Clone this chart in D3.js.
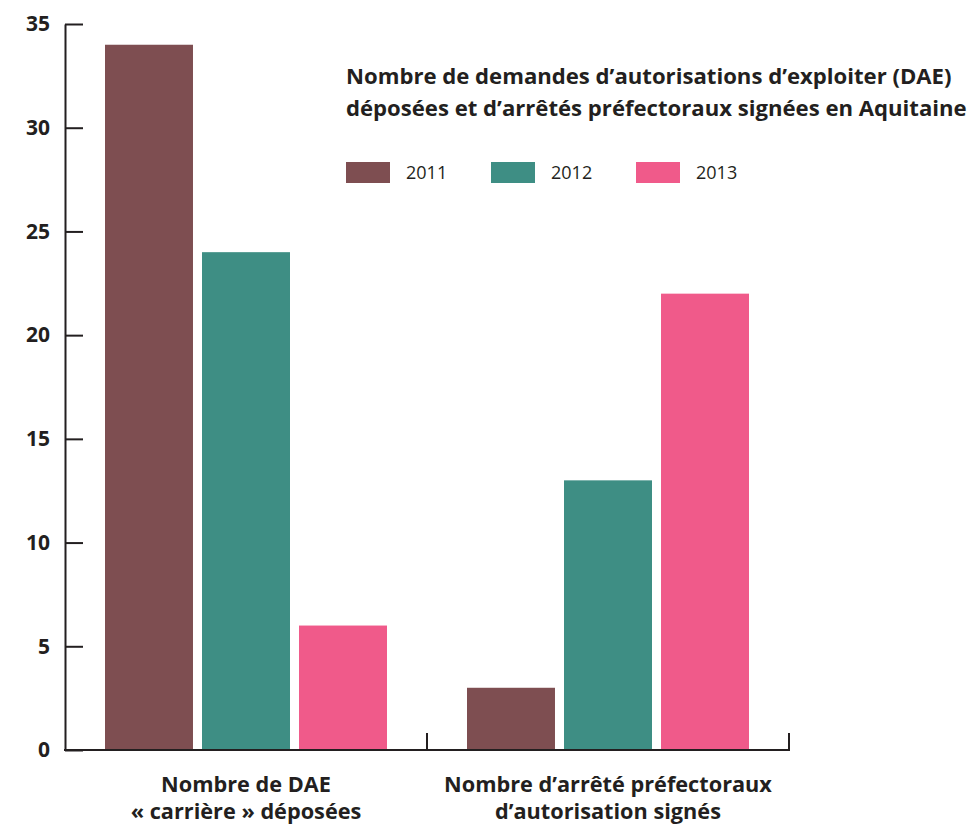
<!DOCTYPE html>
<html><head><meta charset="utf-8">
<script src="https://cdn.jsdelivr.net/npm/d3@7"></script>
<style>body{margin:0;background:#fff;} svg{display:block;}</style>
</head><body>
<svg id="chart" width="970" height="830"></svg>
<script>
const categories = [["Nombre de DAE", "« carrière » déposées"], ["Nombre d’arrêté préfectoraux", "d’autorisation signés"]];
const years = ["2011", "2012", "2013"];
const values2011 = [34, 3];
const values2012 = [24, 13];
const values2013 = [6, 22];
const yTicks = [0, 5, 10, 15, 20, 25, 30, 35];
const titleLines = ["Nombre de demandes d’autorisations d’exploiter (DAE)", "déposées et d’arrêtés préfectoraux signées en Aquitaine"];
const colors = ["#7E4E51", "#3E8E84", "#F05A8A"];

const series = [values2011, values2012, values2013];
const catKeys = categories.map((c, i) => "c" + i);
const svg = d3.select("#chart");
const font = "'Open Sans', Lato, sans-serif";
const ink = "#231F20";

// fit font size so a reference string reaches a target width
function fitSize(text, target, weight) {
  const t = svg.append("text").style("font-family", font).style("font-weight", weight)
    .style("font-size", "20px").text(text);
  const w = t.node().getComputedTextLength();
  t.remove();
  return 20 * target / w;
}

const y = d3.scaleLinear().domain([0, 35]).range([750, 24]);
const x0 = d3.scaleBand().domain(catKeys).range([65, 789]).padding(0);
const x1 = d3.scaleBand().domain(years).range([40, x0.bandwidth() - 40]).paddingInner(0.093).paddingOuter(0);
const color = d3.scaleOrdinal().domain(years).range(colors);

// bars
const groups = svg.append("g").selectAll("g").data(catKeys).join("g")
  .attr("transform", d => `translate(${x0(d)},0)`);
groups.selectAll("rect")
  .data((d, i) => years.map((yr, j) => ({ yr, v: series[j][i] })))
  .join("rect")
  .attr("x", d => x1(d.yr))
  .attr("width", x1.bandwidth())
  .attr("y", d => y(d.v))
  .attr("height", d => y(0) - y(d.v))
  .attr("fill", d => color(d.yr));

// y axis
const yAxis = svg.append("g").attr("transform", "translate(65,0)")
  .call(d3.axisLeft(y).tickValues(yTicks).tickSizeInner(-18).tickSizeOuter(0).tickPadding(15));
yAxis.select(".domain").attr("stroke", ink).attr("stroke-width", 2);
yAxis.selectAll(".tick line").attr("stroke", ink).attr("stroke-width", 2);
yAxis.selectAll(".tick text").attr("fill", ink).style("font-family", font)
  .style("font-size", "21px").style("font-weight", "bold");

// x axis
const xAxis = svg.append("g").attr("transform", `translate(0,${y(0)})`);
xAxis.append("line").attr("x1", x0.range()[0] - 1).attr("x2", x0.range()[1] + 1)
  .attr("stroke", ink).attr("stroke-width", 2);
const boundaries = catKeys.slice(1).map(k => x0(k)).concat([x0.range()[1]]);
xAxis.selectAll("line.tk").data(boundaries).join("line").attr("class", "tk")
  .attr("x1", d => d).attr("x2", d => d).attr("y1", 0).attr("y2", -17)
  .attr("stroke", ink).attr("stroke-width", 2);
const catSize = fitSize(categories[1][0], 328, "bold");
xAxis.selectAll("text.cat").data(categories).join("text").attr("class", "cat")
  .attr("x", (d, i) => x0(catKeys[i]) + x0.bandwidth() / 2)
  .attr("text-anchor", "middle").attr("fill", ink)
  .style("font-family", font).style("font-size", catSize + "px").style("font-weight", "bold")
  .selectAll("tspan").data(d => d).join("tspan")
  .attr("x", function () { return this.parentNode.getAttribute("x"); })
  .attr("y", (d, i) => 42 + i * 27)
  .text(d => d);

// title
const titleSize = fitSize(titleLines[0], 606, "bold");
svg.append("g").selectAll("text").data(titleLines).join("text")
  .attr("x", 346).attr("y", (d, i) => 84 + i * 32)
  .attr("fill", ink).style("font-family", font).style("font-size", titleSize + "px").style("font-weight", "bold")
  .text(d => d);

// legend
const leg = svg.append("g").selectAll("g").data(years).join("g")
  .attr("transform", (d, i) => `translate(${346 + i * 145},162)`);
leg.append("rect").attr("width", 44).attr("height", 21).attr("fill", d => color(d));
leg.append("text").attr("x", 60).attr("y", 17).attr("fill", ink)
  .style("font-family", font).style("font-size", "18px").text(d => d);
</script>
</body></html>
